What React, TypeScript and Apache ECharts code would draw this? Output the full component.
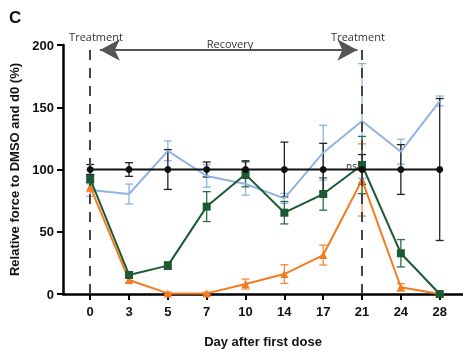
import React, { useEffect, useRef } from "react";
import * as echarts from "echarts";

const days = ["0", "3", "5", "7", "10", "14", "17", "21", "24", "28"];
const yTicks = [0, 50, 100, 150, 200];

const dmsoMean = [100, 100, 100, 100, 100, 100, 100, 100, 100, 100];
const dmsoErr = [4, 5.5, 16, 6, 7, 22, 21, 12, 20, 57];

const blueMean = [83.5, 80.3, 115, 94.8, 88.4, 76.8, 113.5, 139, 114.3, 155];
const blueErr = [5, 8, 8, 9, 9, 4, 22, 46, 10, 4];

const greenMean = [92.4, 15.3, 22.8, 70.2, 96.1, 65.3, 80.3, 103.6, 32.7, 0];
const greenErr = [3, 2, 3, 12, 10, 9, 13, 23, 11, 0];

const orangeMean = [86.2, 11.2, 0.5, 0.5, 8, 16, 31.3, 91.6, 5.4, 0];
const orangeErr = [4, 2, 1, 1, 4, 7.5, 8, 29, 3, 0];

const treatmentDays = [0, 7]; // indices of day 0 and day 21
const recoverySpan = [0.25, 6.88];
const annotTop = 196;

const FONT = "Liberation Sans, Arial, sans-serif";

function lineData(vals: number[]) {
  return vals.map((v, i) => [i, v]);
}
function errData(mean: number[], err: number[]) {
  return mean.map((m, i) => [i, m - err[i], m + err[i]]);
}

function errSeries(mean: number[], err: number[], color: string, z: number) {
  return {
    type: "custom",
    z,
    silent: true,
    clip: false,
    data: errData(mean, err),
    encode: { x: 0, y: [1, 2] },
    renderItem: (params: any, api: any) => {
      const x = api.value(0);
      const lo = api.coord([x, api.value(1)]);
      const hi = api.coord([x, api.value(2)]);
      const w = 4;
      const style = { stroke: color, lineWidth: 1.3 };
      return {
        type: "group",
        children: [
          { type: "line", shape: { x1: lo[0], y1: lo[1], x2: hi[0], y2: hi[1] }, style },
          { type: "line", shape: { x1: lo[0] - w, y1: lo[1], x2: lo[0] + w, y2: lo[1] }, style },
          { type: "line", shape: { x1: hi[0] - w, y1: hi[1], x2: hi[0] + w, y2: hi[1] }, style },
        ],
      };
    },
  };
}

export default function App() {
  const ref = useRef<HTMLDivElement>(null);
  useEffect(() => {
    if (!ref.current) return;
    const chart = echarts.init(ref.current, null, { renderer: "svg" });
    const black = "#111111";
    const blue = "#8db4e2";
    const green = "#1b5a32";
    const orange = "#f47b20";
    chart.setOption({
      animation: false,
      grid: { left: 63, right: 0, top: 45, bottom: 57, outerBoundsMode: "none", containLabel: false },
      xAxis: {
        type: "value",
        min: -0.7,
        max: 9.6,
        name: "Day after first dose",
        nameLocation: "middle",
        nameGap: 41,
        nameTextStyle: { fontFamily: FONT, fontWeight: "bold", fontSize: 13, color: "#111" },
        splitLine: { show: false },
        axisLine: { onZero: false, lineStyle: { color: "#000", width: 2.5 } },
        axisTick: {
          show: true,
          length: 6,
          lineStyle: { color: "#000", width: 2 },
          customValues: days.map((_, i) => i),
        },
        axisLabel: {
          customValues: days.map((_, i) => i),
          formatter: (v: number) => days[Math.round(v)] ?? "",
          fontFamily: FONT,
          fontWeight: "bold",
          fontSize: 13,
          color: "#111",
          margin: 11,
        },
      },
      yAxis: {
        type: "value",
        min: 0,
        max: 200,
        interval: 50,
        name: "Relative force to DMSO and d0 (%)",
        nameLocation: "middle",
        nameGap: 34,
        nameTextStyle: { fontFamily: FONT, fontWeight: "bold", fontSize: 13, color: "#111" },
        splitLine: { show: false },
        axisLine: { show: true, onZero: false, lineStyle: { color: "#000", width: 2.5 } },
        axisTick: { show: true, length: 6, lineStyle: { color: "#000", width: 2 } },
        axisLabel: {
          customValues: yTicks,
          fontFamily: FONT,
          fontWeight: "bold",
          fontSize: 13,
          color: "#111",
          margin: 9,
        },
      },
      series: [
        errSeries(blueMean, blueErr, blue, 2),
        errSeries(orangeMean, orangeErr, "#f58a3c", 2),
        errSeries(greenMean, greenErr, "#2e6e48", 2),
        errSeries(dmsoMean, dmsoErr, "#222", 2),
        {
          type: "line",
          data: lineData(blueMean),
          symbol: "none",
          lineStyle: { color: blue, width: 2 },
          itemStyle: { color: blue },
          z: 3,
          silent: true,
        },
        {
          type: "line",
          data: lineData(orangeMean),
          symbol: "triangle",
          symbolSize: 8,
          lineStyle: { color: orange, width: 2 },
          itemStyle: { color: orange },
          z: 4,
          silent: true,
        },
        {
          type: "line",
          data: lineData(greenMean),
          symbol: "rect",
          symbolSize: 8,
          lineStyle: { color: green, width: 2 },
          itemStyle: { color: green },
          z: 5,
          silent: true,
        },
        {
          type: "line",
          data: lineData(dmsoMean),
          symbol: "circle",
          symbolSize: 7,
          lineStyle: { color: black, width: 2 },
          itemStyle: { color: black },
          z: 6,
          silent: true,
          markLine: {
            silent: true,
            animation: false,
            label: { show: false },
            emphasis: { disabled: true },
            data: [
              ...treatmentDays.map((d) => [
                { coord: [d, 0], symbol: "none", lineStyle: { color: "#444", width: 2, type: [10, 8] } },
                { coord: [d, annotTop], symbol: "none" },
              ]),
              [
                { coord: [recoverySpan[0], annotTop], symbol: "arrow", symbolSize: [16, 20], lineStyle: { color: "#555", width: 2, type: "solid" } },
                { coord: [recoverySpan[1], annotTop], symbol: "arrow", symbolSize: [16, 20] },
              ],
            ],
          },
        },
      ],
      graphic: [
        { type: "text", left: 9, top: 9, style: { text: "C", font: "bold 17px " + FONT, fill: "#111" } },
        { type: "text", x: 96, y: 36, style: { text: "Treatment", font: "11px 'Open Sans', sans-serif", fill: "#333", align: "center", verticalAlign: "middle" } },
        { type: "text", x: 358, y: 36, style: { text: "Treatment", font: "11px 'Open Sans', sans-serif", fill: "#333", align: "center", verticalAlign: "middle" } },
        { type: "text", x: 230, y: 43, style: { text: "Recovery", font: "11px 'Open Sans', sans-serif", fill: "#333", align: "center", verticalAlign: "middle" } },
        { type: "text", x: 357, y: 166, style: { text: "ns", font: "10px 'Open Sans', sans-serif", fill: "#333", align: "right", verticalAlign: "middle" } },
      ],
    });
    return () => chart.dispose();
  }, []);
  return <div ref={ref} style={{ position: "fixed", left: 0, top: 0, width: 463, height: 351 }} />;
}
